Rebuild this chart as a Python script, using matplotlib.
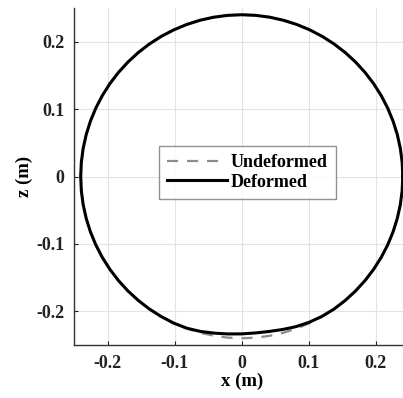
import numpy as np
import matplotlib
matplotlib.use("Agg")
import matplotlib.pyplot as plt

plt.rcParams['font.family'] = ['Liberation Serif', 'DejaVu Serif']
plt.rcParams['font.weight'] = 'bold'
plt.rcParams['axes.unicode_minus'] = False

# polar description of the shapes (angle in degrees, radius in m), 5 degree steps
angles_deg = list(range(0, 365, 5))
r_undeformed = [0.24] * len(angles_deg)
r_deformed = ([0.24] * 50 +              # 0 .. 245 deg
              [0.2395, 0.238, 0.236, 0.2345, 0.2335, 0.233, 0.2335, 0.235, 0.237,
               0.2385, 0.2395] +         # 250 .. 300
              [0.24] * 12)               # 305 .. 360

xticks = [-0.2, -0.1, 0, 0.1, 0.2]
xticklabels = ['-0.2', '-0.1', '0', '0.1', '0.2']
yticks = [-0.2, -0.1, 0, 0.1, 0.2]
yticklabels = ['-0.2', '-0.1', '0', '0.1', '0.2']

th = np.deg2rad(angles_deg)
xu = np.array(r_undeformed) * np.cos(th)
zu = np.array(r_undeformed) * np.sin(th)
xd = np.array(r_deformed) * np.cos(th)
zd = np.array(r_deformed) * np.sin(th)

fig = plt.figure(figsize=(4.03, 3.98), dpi=100)
ax = fig.add_axes([74/403, 53/398, 335.5/403, 337/398])
ax.plot(xu, zu, color='#8c8c8c', lw=1.6, dashes=(5, 4), label='Undeformed')
ax.plot(xd, zd, '-', color='black', lw=2.2, label='Deformed')

ax.set_xlim(-0.25, 0.25)
ax.set_ylim(-0.25, 0.25)
ax.set_xticks(xticks)
ax.set_xticklabels(xticklabels)
ax.set_yticks(yticks)
ax.set_yticklabels(yticklabels)
ax.grid(True, color='#e3e3e3', lw=0.8)
ax.spines['top'].set_visible(False)
ax.spines['right'].set_visible(False)
for s in ['left', 'bottom']:
    ax.spines[s].set_color('#333333')
    ax.spines[s].set_linewidth(1.0)
ax.tick_params(direction='in', length=3, labelsize=13, colors='#222222', pad=7)
ax.set_xlabel('x (m)', fontsize=13.5, fontweight='bold', labelpad=1)
ax.set_ylabel('z (m)', fontsize=13.5, fontweight='bold', labelpad=2)

leg = ax.legend(loc='center', bbox_to_anchor=(0.517, 0.512), fontsize=13, frameon=True,
                fancybox=False, edgecolor='#777777', handlelength=3.3, borderpad=0.45,
                labelspacing=0.15, handletextpad=0.2)
leg.get_frame().set_linewidth(1.0)

fig.savefig('out.png', dpi=100)
